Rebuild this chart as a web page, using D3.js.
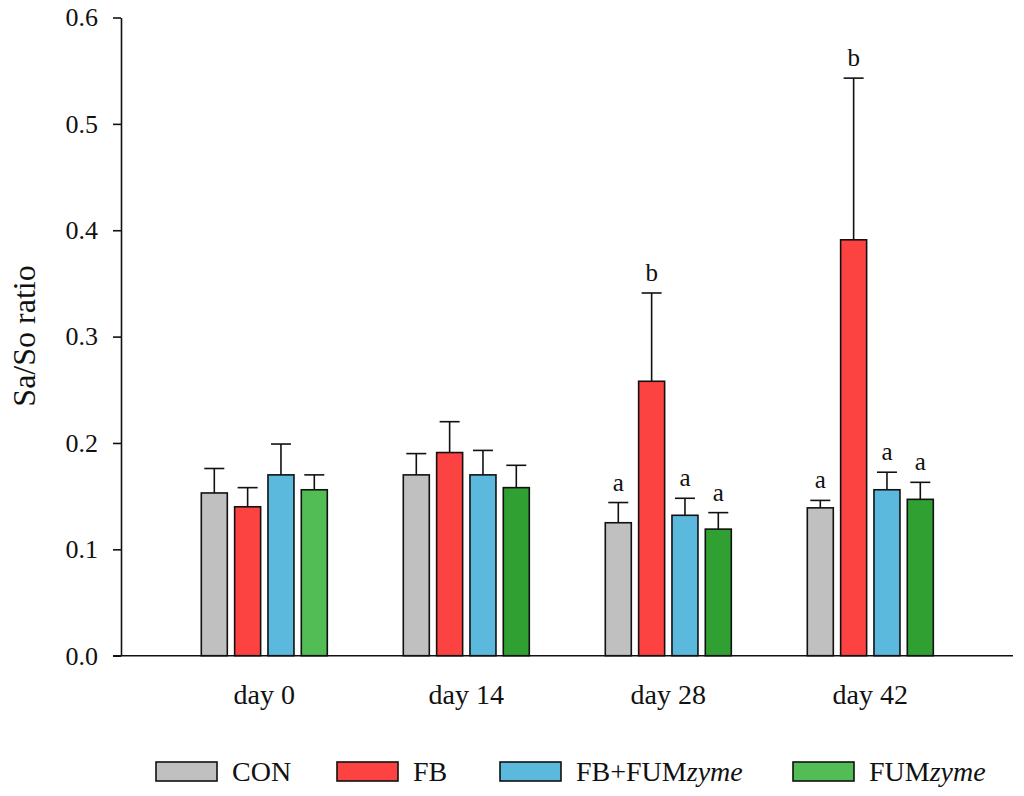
<!DOCTYPE html>
<html>
<head>
<meta charset="utf-8">
<script src="https://cdn.jsdelivr.net/npm/d3@7"></script>
<style>
  html, body { margin: 0; padding: 0; background: #fff; }
  svg { display: block; font-family: "Liberation Serif", "Times New Roman", serif; }
</style>
</head>
<body>
<svg id="chart" width="1024" height="796"></svg>
<script>
// ---- data ----
const days = ["day 0", "day 14", "day 28", "day 42"];
const series = ["CON", "FB", "FB+FUMzyme", "FUMzyme"];
const means = [
  [0.153, 0.140, 0.170, 0.156],
  [0.170, 0.191, 0.170, 0.158],
  [0.125, 0.258, 0.132, 0.119],
  [0.139, 0.391, 0.156, 0.147]
];
const upper = [
  [0.176, 0.158, 0.199, 0.170],
  [0.190, 0.220, 0.193, 0.179],
  [0.144, 0.341, 0.148, 0.1345],
  [0.146, 0.543, 0.1725, 0.163]
];
const letters = [
  ["", "", "", ""],
  ["", "", "", ""],
  ["a", "b", "a", "a"],
  ["a", "b", "a", "a"]
];
const yTicks = [0.0, 0.1, 0.2, 0.3, 0.4, 0.5, 0.6];

// ---- styles ----
const colors = ["#c0c0c0", "#fd4242", "#5cb9de", "#30a032"];
const lightGreen = "#52bd54";
function fillFor(di, si) {
  if (si === 3 && di === 0) return lightGreen;
  return colors[si];
}
const legendColors = ["#c0c0c0", "#fd4242", "#5cb9de", lightGreen];

const svg = d3.select("#chart");
const y = d3.scaleLinear().domain([0, 0.6]).range([655.7, 17.5]);
const x0 = d3.scaleBand().domain(days).range([163.3, 971.3]).padding(0);
const x1 = d3.scaleBand().domain(series).range([0, 126]).paddingInner(0.22).paddingOuter(0);
const groupOffset = (x0.bandwidth() - 126) / 2;

// y axis
const yAxis = d3.axisLeft(y).tickValues(yTicks).tickFormat(d3.format(".1f")).tickSize(8).tickSizeOuter(0);
const gy = svg.append("g").attr("transform", "translate(121,0)").call(yAxis);
gy.select(".domain").attr("stroke", "#111").attr("stroke-width", 1.6);
gy.selectAll(".tick line").attr("stroke", "#111").attr("stroke-width", 1.6);
gy.selectAll(".tick text").attr("font-size", 26).attr("fill", "#111").attr("x", -23)
  .attr("font-family", "Liberation Serif, serif");

// x axis baseline
svg.append("line").attr("x1", 113).attr("x2", 1013).attr("y1", y(0)).attr("y2", y(0))
  .attr("stroke", "#111").attr("stroke-width", 1.6);

// x labels
svg.selectAll(".xlab").data(days).enter().append("text")
  .attr("x", d => x0(d) + x0.bandwidth() / 2)
  .attr("y", 704)
  .attr("text-anchor", "middle").attr("font-size", 28).attr("fill", "#111")
  .text(d => d);

// y title
svg.append("text").attr("transform", "translate(35,336) rotate(-90)")
  .attr("text-anchor", "middle").attr("font-size", 32).attr("fill", "#111").text("Sa/So ratio");

// bars
const rows = [];
days.forEach((d, di) => series.forEach((s, si) => rows.push({ d, s, di, si, v: means[di][si], u: upper[di][si], l: letters[di][si] })));
const bx = r => x0(r.d) + groupOffset + x1(r.s);
const bw = x1.bandwidth();

// error bars (upper only)
const eb = svg.append("g");
eb.selectAll(".ev").data(rows).enter().append("line")
  .attr("x1", r => bx(r) + bw / 2).attr("x2", r => bx(r) + bw / 2)
  .attr("y1", r => y(r.v)).attr("y2", r => y(r.u))
  .attr("stroke", "#111").attr("stroke-width", 1.6);
eb.selectAll(".ec").data(rows).enter().append("line")
  .attr("x1", r => bx(r) + bw / 2 - 10).attr("x2", r => bx(r) + bw / 2 + 10)
  .attr("y1", r => y(r.u)).attr("y2", r => y(r.u))
  .attr("stroke", "#111").attr("stroke-width", 1.6);

svg.append("g").selectAll("rect").data(rows).enter().append("rect")
  .attr("x", r => bx(r)).attr("width", bw)
  .attr("y", r => y(r.v)).attr("height", r => y(0) - y(r.v))
  .attr("fill", r => fillFor(r.di, r.si))
  .attr("stroke", "#111").attr("stroke-width", 1.6);

// letters
svg.append("g").selectAll("text").data(rows.filter(r => r.l)).enter().append("text")
  .attr("x", r => bx(r) + bw / 2).attr("y", r => y(r.u) - 12)
  .attr("text-anchor", "middle").attr("font-size", 25).attr("fill", "#111")
  .text(r => r.l);

// legend
const legX = [156, 337, 500, 793];
const lg = svg.append("g");
series.forEach((s, i) => {
  lg.append("rect").attr("x", legX[i]).attr("y", 762).attr("width", 61).attr("height", 19)
    .attr("fill", legendColors[i]).attr("stroke", "#111").attr("stroke-width", 1.6);
  const t = lg.append("text").attr("x", legX[i] + 76).attr("y", 781)
    .attr("font-size", 28).attr("fill", "#111");
  if (s.endsWith("zyme")) {
    t.append("tspan").text(s.replace("zyme", ""));
    t.append("tspan").attr("font-style", "italic").text("zyme");
  } else {
    t.text(s);
  }
});
</script>
</body>
</html>
